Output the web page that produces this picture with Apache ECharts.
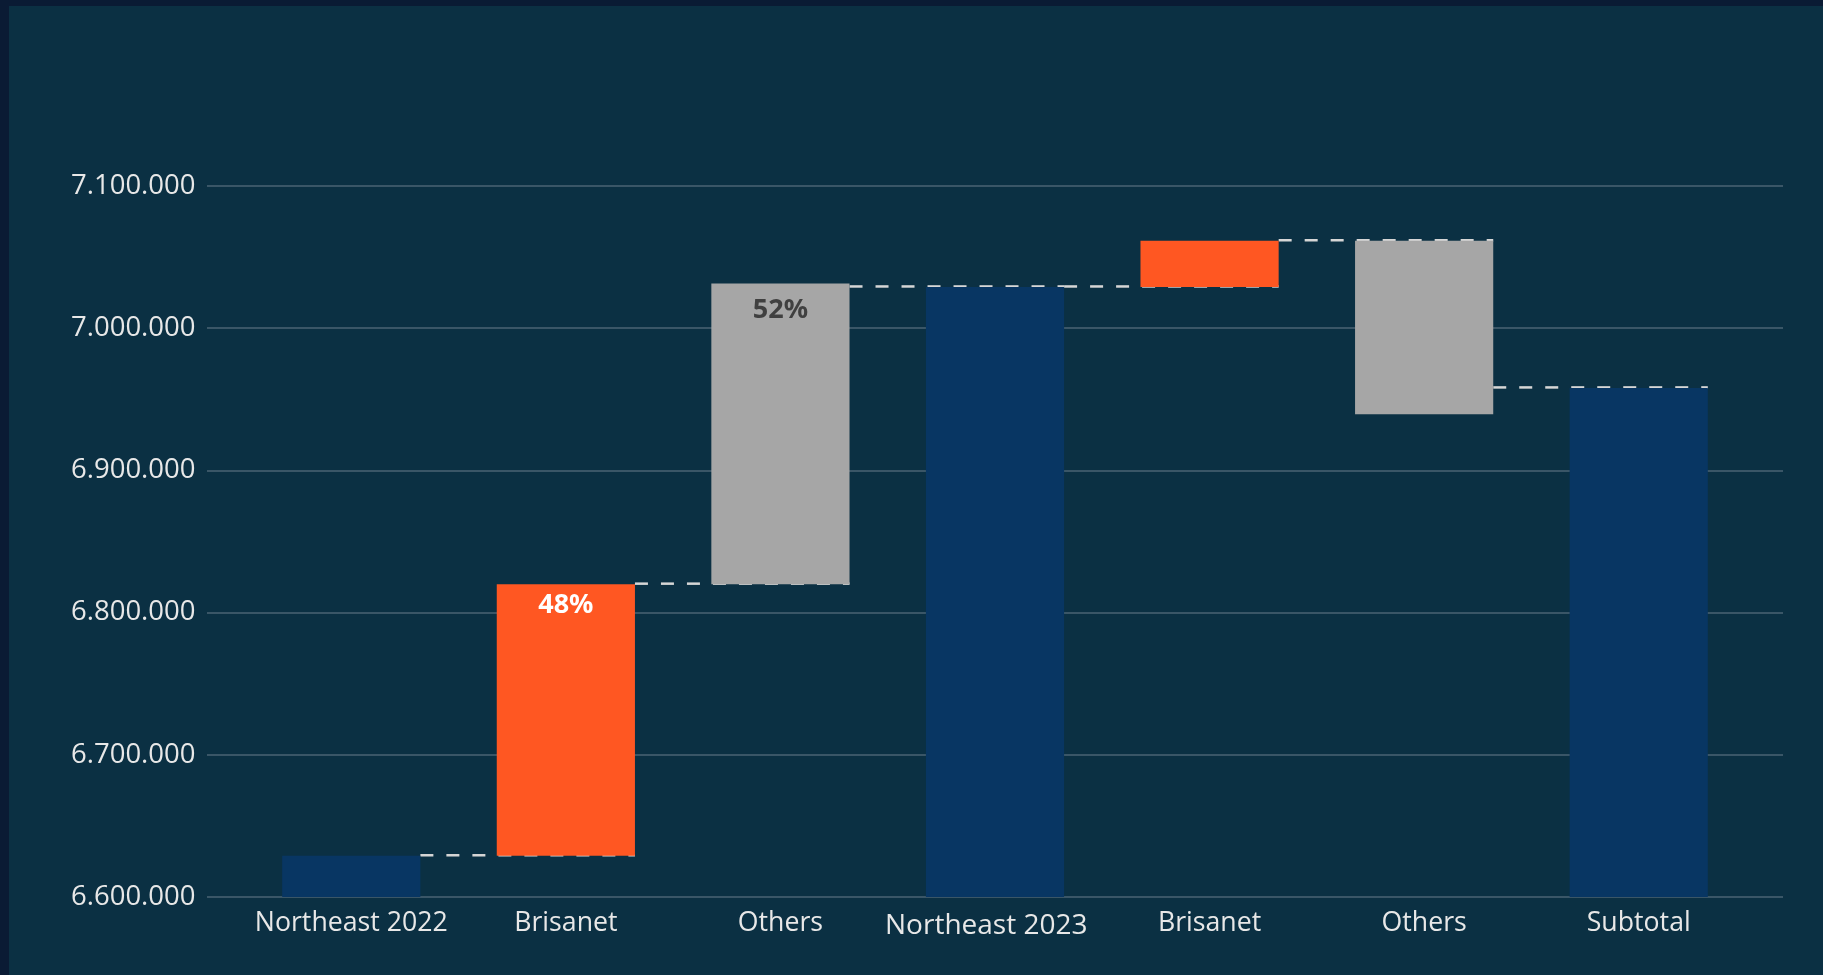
<!DOCTYPE html>
<html>
<head>
<meta charset="utf-8">
<script src="https://cdn.jsdelivr.net/npm/echarts@6/dist/echarts.min.js"></script>
<style>
  html, body { margin: 0; padding: 0; width: 1823px; height: 975px; background: #0a1b34; overflow: hidden; }
  #panel { position: absolute; left: 9px; top: 6px; right: 0; bottom: 0; background: #0b3043; }
  #chart { position: absolute; left: 0; top: 0; width: 1823px; height: 975px; }
</style>
</head>
<body>
<div id="panel"></div>
<div id="chart"></div>
<script>
// ---- data ----
const categories = ['Northeast 2022', 'Brisanet', 'Others', 'Northeast 2023', 'Brisanet', 'Others', 'Subtotal'];
const kinds      = ['total', 'change', 'change', 'total', 'change', 'change', 'total'];
const totals     = [6629000, null, null, 7029000, null, null, 6958000];
const changes    = [null, 191000, 211500, null, 32500, -122000, null];
const shareLabels = ['', '48%', '52%', '', '', '', ''];
const yTicks = { min: 6600000, max: 7100000, interval: 100000 };

// ---- styles ----
const COLORS = { total: '#083663', up: '#ff5722', other: '#a6a6a6' };
const barColors = ['total', 'up', 'other', 'total', 'up', 'other', 'total'];
const shareLabelColors = ['#ffffff', '#ffffff', '#404040', '#ffffff', '#ffffff', '#ffffff', '#ffffff'];
const shareLabelDist = [8, 8, 13, 8, 8, 8, 8];
const BAR_RATIO = 0.644;
const FONT = "'Open Sans', 'Noto Sans', sans-serif";

// ---- build waterfall geometry from data ----
let running = 0;
const lower = [], upper = [], startLevel = [];
for (let i = 0; i < categories.length; i++) {
  if (kinds[i] === 'total') {
    running = totals[i];
    lower.push(yTicks.min);
    upper.push(totals[i]);
    startLevel.push(totals[i]);
  } else {
    const s = running, e = running + changes[i];
    lower.push(Math.min(s, e));
    upper.push(Math.max(s, e));
    startLevel.push(s);
    running = e;
  }
}
// connector i goes from bar i right edge to bar i+1 right edge at start level of bar i+1
const connectors = [];
for (let i = 0; i < categories.length - 1; i++) connectors.push([i, startLevel[i + 1]]);

const fmt = v => String(v).replace(/\B(?=(\d{3})+(?!\d))/g, '.');

const chart = echarts.init(document.getElementById('chart'), null, { renderer: 'canvas' });
const option = {
  backgroundColor: 'transparent',
  animation: false,
  grid: [
    { left: 244, right: 77, top: 186, bottom: 78 },
    { left: 207, right: 40, top: 186, bottom: 78 }
  ],
  xAxis: [
    {
      type: 'category', gridIndex: 0,
      data: categories.map((c, i) => i === 3
        ? { value: c, textStyle: { fontSize: 28, padding: [3, 17.5, 0, 0] } }
        : c),
      axisLine: { show: false }, axisTick: { show: false },
      axisLabel: { color: '#e8e8e8', fontFamily: FONT, fontSize: 26.7, margin: 12.5, interval: 0 }
    },
    { type: 'value', gridIndex: 1, show: false, min: 0, max: 1 }
  ],
  yAxis: [
    { type: 'value', gridIndex: 0, min: yTicks.min, max: yTicks.max, interval: yTicks.interval, show: false },
    {
      type: 'value', gridIndex: 1, min: yTicks.min, max: yTicks.max, interval: yTicks.interval,
      axisLine: { show: false }, axisTick: { show: false },
      axisLabel: { color: '#e8e8e8', fontFamily: FONT, fontSize: 27.5, margin: 11.5, formatter: fmt },
      splitLine: { lineStyle: { color: '#4b6373', width: 1.5 } }
    }
  ],
  series: [
    {
      type: 'custom', xAxisIndex: 0, yAxisIndex: 0, z: 1,
      data: connectors,
      renderItem: (params, api) => {
        const i = api.value(0), lvl = api.value(1);
        const band = api.size([1, 0])[0];
        const half = band * BAR_RATIO / 2;
        const p1 = api.coord([i, lvl]);
        const p2 = api.coord([i + 1, lvl]);
        return {
          type: 'line',
          shape: { x1: p1[0] + half, y1: p1[1] - 0.5, x2: p2[0] + half, y2: p2[1] - 0.5 },
          style: { stroke: '#d6d6d6', lineWidth: 2.5, lineDash: [13, 13] }
        };
      }
    },
    {
      type: 'bar', xAxisIndex: 0, yAxisIndex: 0, stack: 'wf', barWidth: (BAR_RATIO * 100) + '%',
      itemStyle: { color: 'transparent' }, silent: true, z: 2,
      data: lower
    },
    {
      type: 'bar', xAxisIndex: 0, yAxisIndex: 0, stack: 'wf', barWidth: (BAR_RATIO * 100) + '%', z: 2,
      data: upper.map((u, i) => ({
        value: u - lower[i],
        itemStyle: { color: COLORS[barColors[i]] },
        label: {
          show: shareLabels[i] !== '', position: 'insideTop', distance: shareLabelDist[i],
          formatter: () => shareLabels[i],
          color: shareLabelColors[i], fontFamily: 'Noto Sans', fontWeight: 'bold', fontSize: 27
        }
      }))
    }
  ]
};
chart.setOption(option);
</script>
</body>
</html>
